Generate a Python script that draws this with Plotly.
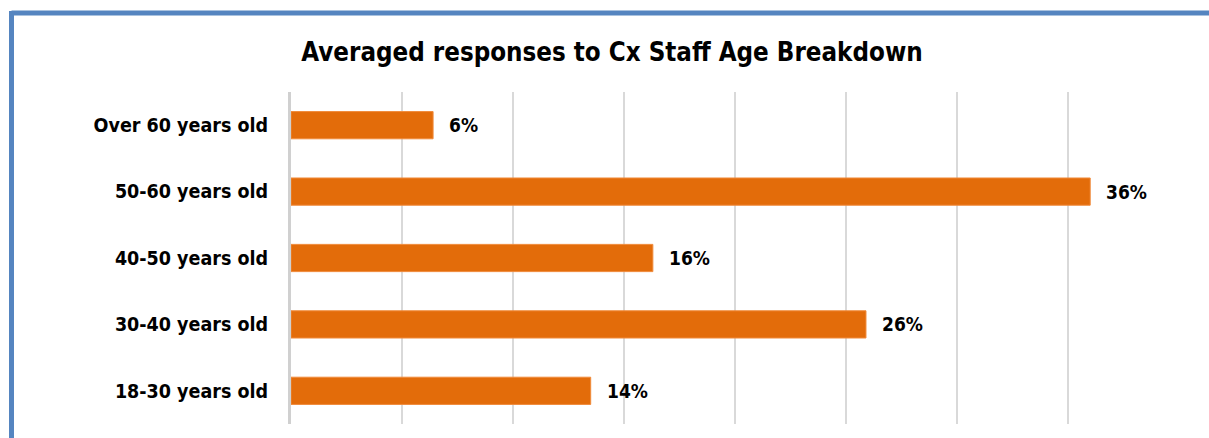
import plotly.graph_objects as go

categories = ["18-30 years old", "30-40 years old", "40-50 years old", "50-60 years old", "Over 60 years old"]
values = [13.5, 25.9, 16.3, 36.0, 6.4]
labels = ["14%", "26%", "16%", "36%", "6%"]
title = "Averaged responses to Cx Staff Age Breakdown"

FONT = "DejaVu Sans Condensed, Liberation Sans, Arial, sans-serif"
W, H = 1209, 438
ML, MR, MT, MB = 291, 30, 92, 14

fig = go.Figure(go.Bar(
    y=categories, x=values, orientation="h",
    marker=dict(color="#E36C0A", line=dict(color="#F08A3A", width=1)),
    width=0.41, hoverinfo="skip",
))

for c, v, t in zip(categories, values, labels):
    fig.add_annotation(x=v, y=c, xref="x", yref="y", text="<b>" + t + "</b>", showarrow=False,
                       xanchor="left", yanchor="middle", xshift=14,
                       font=dict(family=FONT, size=19, color="#000000"))

pw = W - ML - MR
ph = H - MT - MB
def px(xp):
    return (xp - ML) / pw
def py(yp):
    return (H - MB - yp) / ph

border = dict(color="#5585C0", width=5)
fig.add_shape(type="line", xref="paper", yref="paper", x0=px(11.5), x1=px(W + 5), y0=py(13), y1=py(13), line=border)
fig.add_shape(type="line", xref="paper", yref="paper", x0=px(11.5), x1=px(11.5), y0=py(11), y1=py(H + 5), line=border)

fig.update_layout(
    width=W, height=H,
    margin=dict(l=ML, r=MR, t=MT, b=MB, pad=0),
    paper_bgcolor="white", plot_bgcolor="white",
    title=dict(text="<b>" + title + "</b>", x=(612) / W, xanchor="center", y=1 - 52 / H, yanchor="middle",
               font=dict(family=FONT, size=25.7, color="#000000")),
    xaxis=dict(range=[0, 40], dtick=5, showticklabels=False, showgrid=True,
               gridcolor="#D9D9D9", gridwidth=2, zeroline=False, showline=False, fixedrange=True),
    yaxis=dict(range=[-0.5, 4.5], showgrid=False, showline=True, linecolor="#D0D0D0", linewidth=3,
               ticks="", ticklabelstandoff=16,
               tickfont=dict(family=FONT, size=19.5, color="#000000"),
               fixedrange=True),
    showlegend=False,
)
fig.update_yaxes(tickprefix="<b>", ticksuffix="</b>")

fig.write_html("out.html")
